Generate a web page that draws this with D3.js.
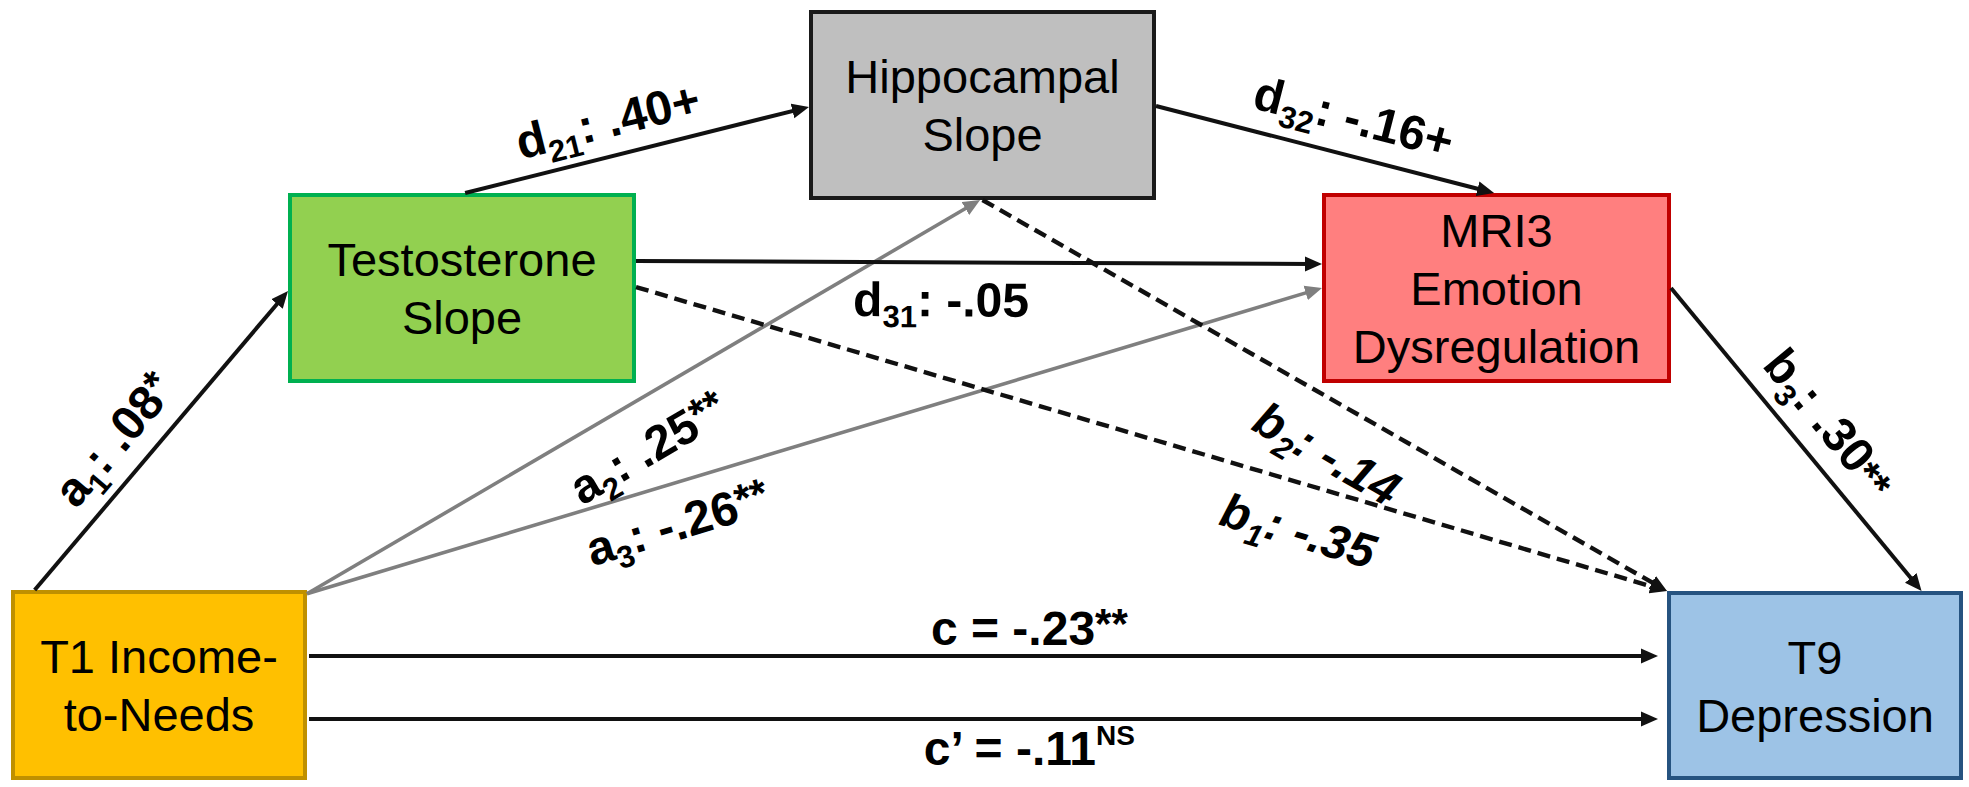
<!DOCTYPE html>
<html>
<head>
<meta charset="utf-8">
<script src="https://cdn.jsdelivr.net/npm/d3@7"></script>
<style>
  body { margin: 0; background: #fff; }
  svg { display: block; }
  .box-text { font-family: "Liberation Sans", Arial, sans-serif; font-size: 47px; fill: #000; }
  .path-label { font-family: "Liberation Sans", Arial, sans-serif; font-size: 48px; font-weight: bold; fill: #000; }
</style>
</head>
<body>
<svg class="chart"></svg>
<script>
// ---- data ----
var nodeIds = ["income", "testo", "hippo", "mri", "dep"];
var nodeLines = [
  ["T1 Income-", "to-Needs"],
  ["Testosterone", "Slope"],
  ["Hippocampal", "Slope"],
  ["MRI3", "Emotion", "Dysregulation"],
  ["T9", "Depression"]
];

var edgeFrom = ["income", "income", "income", "testo", "testo", "hippo", "testo", "hippo", "mri", "income", "income"];
var edgeTo   = ["testo", "hippo", "mri", "hippo", "mri", "mri", "dep", "dep", "dep", "dep", "dep"];
var edgeSym  = ["a", "a", "a", "d", "d", "d", "b", "b", "b", "c", "c\u2019"];
var edgeSub  = ["1", "2", "3", "21", "31", "32", "1", "2", "3", "", ""];
var edgeCoef = [".08", ".25", "-.26", ".40", "-.05", "-.16", "-.35", "-.14", ".30", "-.23", "-.11"];
var edgeSig  = ["*", "**", "**", "+", "", "+", "", "", "**", "**", "NS"];

// ---- layout / style ----
var width = 1969, height = 787;

// outer box edges [x0, y0, x1, y1]
var boxes = {
  income: [11, 590, 307, 780],
  testo:  [288, 193, 636, 383],
  hippo:  [809, 10, 1156, 200],
  mri:    [1322, 193, 1671, 383],
  dep:    [1667, 591, 1963, 780]
};

var nodeFill = d3.scaleOrdinal().domain(nodeIds)
  .range(["#ffc000", "#92d050", "#bfbfbf", "#ff7f7f", "#9dc3e6"]);
var nodeStroke = d3.scaleOrdinal().domain(nodeIds)
  .range(["#bf9000", "#00b050", "#1a1a1a", "#c00000", "#265380"]);

// where each edge leaves / enters its box, as fractions of the box
var ports = [
  [[0.08, 0], [0, 0.516]],
  [[1, 0.02], [0.493, 1]],
  [[1, 0.02], [0, 0.5]],
  [[0.509, 0], [0, 0.51]],
  [[1, 0.358], [0, 0.374]],
  [[1, 0.505], [0.493, 0]],
  [[1, 0.495], [0, 0]],
  [[0.5, 1], [0, 0]],
  [[1, 0.5], [0.86, 0]],
  [[1, 0.347], [0, 0.344]],
  [[1, 0.679], [0, 0.677]]
];
var gaps = [[0,0],[0,0],[0,0],[0,0],[0,0],[0,0],[0,0],[0,0],[0,0],[2,9],[2,9]];
var lineStyle = ["black", "gray", "gray", "black", "black", "black", "dash", "dash", "black", "black", "black"];

// label: fraction along the edge, offset from it (+ = above), italic
var labelT   = [0.424, 0.472, 0.354, 0.44, 0.445, 0.557, 0.655, 0.539, 0.522, 0.534, 0.534];
var labelOff = [20, -63, -56, 19, -54, 22, -63, -66, 20, 11, -46];
var labelItalic = [false, false, false, false, false, false, true, true, false, false, false];

var arrowCut = 10;

var svg = d3.select(".chart")
  .attr("width", width)
  .attr("height", height);

svg.append("rect").attr("width", width).attr("height", height).attr("fill", "#fff");

var defs = svg.append("defs");
[["arrow-black", "#111"], ["arrow-gray", "#7f7f7f"]].forEach(function(m) {
  defs.append("marker")
    .attr("id", m[0])
    .attr("viewBox", "0 -8 17 16")
    .attr("refX", 17 - arrowCut)
    .attr("refY", 0)
    .attr("markerUnits", "userSpaceOnUse")
    .attr("markerWidth", 17)
    .attr("markerHeight", 16)
    .attr("orient", "auto")
    .append("path")
    .attr("d", "M0,-7.5L17,0L0,7.5Z")
    .attr("fill", m[1]);
});

// ---- boxes ----
var nodes = svg.selectAll("g.node")
  .data(nodeIds)
  .enter().append("g")
  .attr("class", "node");

nodes.append("rect")
  .attr("x", function(d) { return boxes[d][0] + 2; })
  .attr("y", function(d) { return boxes[d][1] + 2; })
  .attr("width", function(d) { return boxes[d][2] - boxes[d][0] - 4; })
  .attr("height", function(d) { return boxes[d][3] - boxes[d][1] - 4; })
  .attr("fill", function(d) { return nodeFill(d); })
  .attr("stroke", function(d) { return nodeStroke(d); })
  .attr("stroke-width", 4);

nodes.each(function(d, i) {
  var b = boxes[d];
  var cx = (b[0] + b[2]) / 2, cy = (b[1] + b[3]) / 2;
  var lines = nodeLines[i];
  var g = d3.select(this);
  lines.forEach(function(line, j) {
    g.append("text")
      .attr("class", "box-text")
      .attr("text-anchor", "middle")
      .attr("x", cx)
      .attr("y", cy - (lines.length - 1) * 29 + 17 + j * 58)
      .text(line);
  });
});

// ---- edges ----
function portPoint(id, p) {
  var b = boxes[id];
  return [b[0] + p[0] * (b[2] - b[0]), b[1] + p[1] * (b[3] - b[1])];
}

var edges = edgeFrom.map(function(f, i) {
  var p0 = portPoint(f, ports[i][0]);
  var p1 = portPoint(edgeTo[i], ports[i][1]);
  var dx = p1[0] - p0[0], dy = p1[1] - p0[1];
  var len = Math.sqrt(dx * dx + dy * dy);
  var ux = dx / len, uy = dy / len;
  p0 = [p0[0] + ux * gaps[i][0], p0[1] + uy * gaps[i][0]];
  p1 = [p1[0] - ux * gaps[i][1], p1[1] - uy * gaps[i][1]];
  return {i: i, p0: p0, p1: p1, ux: ux, uy: uy, angle: Math.atan2(dy, dx) * 180 / Math.PI};
});

svg.selectAll("line.edge")
  .data(edges)
  .enter().append("line")
  .attr("class", "edge")
  .attr("x1", function(d) { return d.p0[0]; })
  .attr("y1", function(d) { return d.p0[1]; })
  .attr("x2", function(d) { return d.p1[0] - d.ux * arrowCut; })
  .attr("y2", function(d) { return d.p1[1] - d.uy * arrowCut; })
  .attr("stroke", function(d) { return lineStyle[d.i] == "gray" ? "#7f7f7f" : "#111"; })
  .attr("stroke-width", function(d) { return lineStyle[d.i] == "gray" ? 3.6 : (lineStyle[d.i] == "dash" ? 4.4 : 4); })
  .attr("stroke-dasharray", function(d) { return lineStyle[d.i] == "dash" ? "13,7" : null; })
  .attr("marker-end", function(d) { return lineStyle[d.i] == "gray" ? "url(#arrow-gray)" : "url(#arrow-black)"; });

// ---- coefficient labels ----
edges.forEach(function(e) {
  var i = e.i;
  var t = labelT[i];
  var a = e.angle * Math.PI / 180;
  var upx = Math.sin(a), upy = -Math.cos(a);
  var px = e.p0[0] + (e.p1[0] - e.p0[0]) * t + upx * labelOff[i];
  var py = e.p0[1] + (e.p1[1] - e.p0[1]) * t + upy * labelOff[i];

  var txt = svg.append("text")
    .attr("class", "path-label")
    .attr("text-anchor", "middle")
    .attr("font-style", labelItalic[i] ? "italic" : null)
    .attr("transform", "translate(" + px + "," + py + ") rotate(" + e.angle + ")");

  txt.append("tspan").text(edgeSym[i]);
  var back = 0;
  if (edgeSub[i]) {
    txt.append("tspan").attr("dy", 11).attr("font-size", 31).text(edgeSub[i]);
    back = -11;
  }
  var sep = edgeSym[i].charAt(0) == "c" ? " = " : ": ";
  txt.append("tspan").attr("dy", back).text(sep + edgeCoef[i]);

  var sig = edgeSig[i];
  if (sig == "NS") {
    txt.append("tspan").attr("dy", -20).attr("font-size", 28).text(sig);
  } else if (sig == "**" || sig == "*") {
    txt.append("tspan").attr("dy", edgeSym[i] == "b" ? 2 : -7).attr("font-size", 42).text(sig);
  } else if (sig) {
    txt.append("tspan").text(sig);
  }
});
</script>
</body>
</html>
